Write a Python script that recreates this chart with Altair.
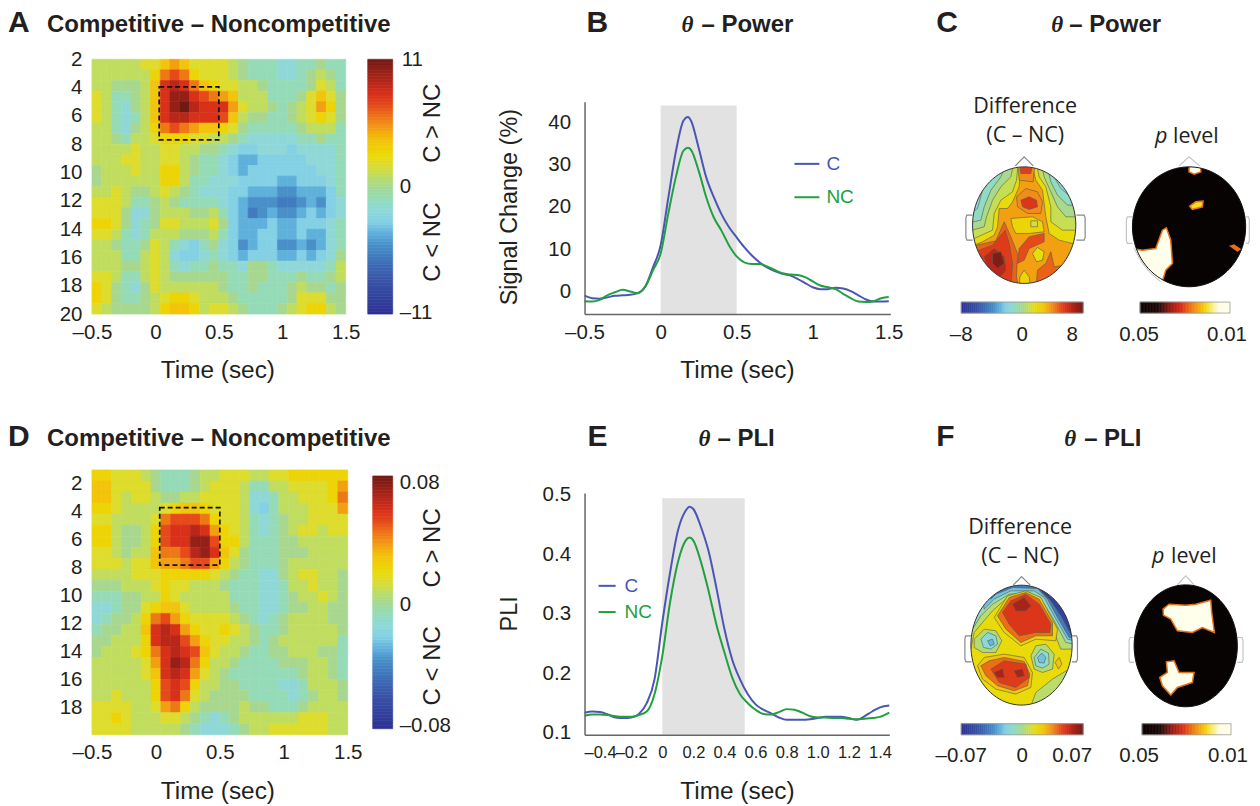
import math
import altair as alt

SANS = "Liberation Sans"
SERIF = "Liberation Serif"
HUMAN = "Open Sans"
INK = "#231f20"
BLUE = "#4b55b4"
GREEN = "#22a040"

# ---------- Heat map A: C - NC power (levels on the -11..11 colour bar)
A_ROWS = [
 [1,1,1,1,1,2,2,4,5,4,2,2,2,2,1,0,-1,-1,-1,-2,-2,-1,-1,0,-1,-1],
 [1,1,1,1,1,1,3,6,7,6,3,2,2,2,1,0,-1,-1,-1,-2,-2,-1,0,1,0,-1],
 [1,1,0,0,0,1,4,8,9,8,6,4,3,2,2,1,1,0,-1,-1,-1,-1,0,2,1,-1],
 [2,1,-1,-1,0,1,4,8,10,10,8,7,6,5,4,1,1,1,-1,-1,-1,0,2,4,2,0],
 [2,1,-1,-2,0,1,4,8,10,11,9,8,8,8,5,2,1,1,0,-1,0,1,2,5,3,0],
 [2,1,-1,-2,-1,1,4,8,9,9,8,8,8,7,4,1,0,0,-1,-1,0,1,2,3,2,0],
 [1,1,-1,-2,0,1,3,6,7,6,5,4,4,3,2,0,-1,-1,-1,-1,-1,0,1,1,1,-1],
 [1,1,0,-1,1,1,2,3,3,3,2,2,1,1,0,-1,-2,-2,-2,-2,-2,-1,-1,0,-1,-1],
 [1,1,1,1,2,1,1,2,2,1,1,0,0,-1,-2,-3,-3,-2,-2,-2,-3,-2,-2,-2,-2,-1],
 [1,1,1,2,2,1,1,2,2,1,0,-1,-1,-2,-3,-4,-4,-3,-3,-3,-3,-3,-2,-2,-2,-1],
 [0,1,1,1,2,1,1,3,3,1,0,-1,-1,-2,-3,-4,-3,-3,-3,-3,-3,-3,-3,-2,-2,-1],
 [0,1,1,1,1,1,1,3,3,1,-1,-1,-2,-2,-2,-3,-3,-3,-3,-4,-4,-3,-3,-3,-2,-1],
 [1,1,2,1,0,0,1,2,1,0,-1,-2,-2,-2,-3,-3,-4,-4,-4,-5,-5,-4,-4,-4,-3,-1],
 [2,2,2,1,-1,-1,0,1,0,-1,-1,-1,-1,-2,-3,-4,-5,-5,-5,-6,-6,-5,-4,-5,-3,-2],
 [2,2,2,0,-2,-2,0,1,1,1,0,0,1,-1,-3,-4,-6,-5,-4,-5,-5,-4,-3,-4,-3,-2],
 [3,3,2,0,-2,-1,0,2,2,1,1,1,2,0,-3,-4,-4,-4,-3,-4,-4,-3,-3,-3,-2,-1],
 [2,2,1,-1,-2,-1,1,1,1,0,0,0,1,-1,-3,-4,-4,-3,-3,-4,-4,-3,-4,-4,-2,-1],
 [1,1,0,-1,-1,0,2,1,-1,-2,-3,-1,0,-2,-3,-5,-4,-3,-3,-5,-5,-4,-5,-4,-2,-1],
 [1,1,1,-1,-1,1,2,1,-2,-3,-3,-2,-1,-2,-3,-4,-3,-3,-3,-4,-4,-3,-4,-3,-2,0],
 [1,1,1,0,0,1,2,1,-1,-2,-1,-1,0,-1,-1,-2,0,0,-1,-2,-2,-2,-2,-2,-1,1],
 [2,2,1,-1,-1,1,2,1,0,0,0,0,0,0,-1,-1,0,0,-1,-1,-1,0,-1,-1,0,1],
 [3,2,0,-1,-2,0,2,1,1,1,1,1,1,0,-1,-1,0,-1,-1,-1,0,1,0,0,-1,0],
 [3,2,0,-1,-1,0,1,2,3,3,2,1,1,1,0,-1,-1,-1,-1,-1,0,2,2,2,0,0],
 [2,1,0,0,0,0,1,3,4,4,3,1,2,2,1,0,-1,-1,-1,0,1,2,3,3,1,0],
]
# ---------- Heat map D: C - NC PLI (levels in 11ths of 0.08)
D_ROWS = [
 [3,3,2,2,2,1,0,-1,-1,-1,0,1,1,2,2,2,1,1,2,2,3,3,3,3,3,3],
 [4,4,2,2,2,2,0,-1,-1,-1,0,1,2,2,2,1,-1,-1,1,1,2,2,2,2,3,5],
 [4,4,2,1,2,2,1,0,0,1,1,2,2,2,2,1,-2,-2,-1,1,1,2,2,2,3,6],
 [3,3,2,1,1,1,1,2,3,4,4,3,2,2,2,1,-2,-3,-1,1,1,1,2,2,2,5],
 [2,2,1,1,1,1,2,6,7,7,7,6,3,2,2,1,-1,-2,-1,0,1,1,2,2,2,2],
 [3,3,1,0,0,1,3,7,8,8,9,8,5,3,2,1,-1,-2,-1,0,1,2,2,1,2,2],
 [3,3,1,0,0,1,3,7,8,8,10,10,7,3,3,1,-1,-1,-1,0,0,1,1,1,1,1],
 [2,2,1,0,1,1,4,6,6,7,9,10,8,4,2,0,-1,-1,-1,0,0,0,1,1,1,1],
 [2,2,2,1,2,2,4,5,5,6,7,7,5,3,1,0,-1,-1,-1,0,1,1,1,1,1,1],
 [1,1,1,1,2,2,2,3,3,3,3,3,2,1,0,-1,-1,-2,-2,0,1,2,2,1,1,0],
 [0,0,0,1,1,1,2,3,2,2,1,1,1,0,-1,-1,-1,-2,-2,-1,1,1,2,1,1,0],
 [-1,-1,-1,0,0,1,1,3,2,1,1,1,1,1,-1,-1,-1,-2,-2,-1,0,1,1,2,1,0],
 [-2,-2,-1,0,0,2,3,4,4,2,1,1,1,1,0,-1,-1,-2,-2,-1,0,0,1,1,0,0],
 [-2,-1,0,0,1,3,6,7,5,3,2,2,2,2,1,0,-1,-2,-1,0,1,1,1,1,0,0],
 [-1,0,0,1,1,4,8,9,8,5,3,2,2,3,2,1,0,-1,-1,0,1,1,1,1,1,0],
 [0,0,1,1,1,3,8,9,9,7,5,3,2,2,1,1,0,-1,0,1,1,1,1,1,1,-1],
 [0,1,1,1,2,3,6,8,9,8,7,4,2,1,1,0,-1,-1,0,0,1,1,1,0,0,-1],
 [1,1,1,1,1,2,5,8,10,9,6,3,1,1,0,-1,-1,-1,-1,0,0,0,1,1,0,-1],
 [1,1,1,1,1,2,4,8,9,8,5,2,1,0,-1,-1,-1,-1,-1,-1,-1,0,1,1,0,-1],
 [1,1,1,1,1,1,3,7,8,7,3,1,1,0,0,-1,-1,-1,-1,-2,-2,-1,1,1,1,0],
 [1,1,2,1,1,1,3,7,8,6,2,1,0,0,0,0,-1,-1,-1,-1,-2,-1,0,1,1,0],
 [2,2,2,2,1,1,2,5,6,3,1,0,0,0,0,1,0,0,-1,-1,-1,0,1,1,1,1],
 [2,2,3,2,1,1,1,2,2,1,0,-1,-2,-1,0,1,1,1,1,1,1,2,2,2,1,1],
 [2,2,2,2,1,1,1,1,1,0,-1,-2,-2,-2,-1,0,1,1,2,2,2,2,2,2,1,1],
]
# ---------- Curves
B_T = [-0.5,-0.45,-0.4,-0.35,-0.3,-0.25,-0.2,-0.15,-0.1,-0.05,0,0.05,0.1,0.15,0.18,0.2,0.25,0.3,0.35,0.4,0.45,0.5,0.55,0.6,0.65,0.7,0.75,0.8,0.85,0.9,0.95,1.0,1.05,1.1,1.15,1.2,1.25,1.3,1.35,1.4,1.45,1.5]
B_C = [-1,-1.6,-1.7,-1.4,-1,-0.9,-0.8,-0.4,1.2,5.7,10.9,22,33,40.4,41.3,40.4,34,27,22.3,18.3,15.2,12.8,10.5,8.5,6.9,5.7,4.8,4.2,3.8,3,2,1,0.55,0.55,0.9,0.7,0.1,-0.9,-1.9,-2.4,-2.4,-2.3]
B_NC = [-2.3,-2.4,-2,-0.9,-0.2,0.4,0,-0.4,1.2,5,8.9,18.3,27,33.3,34,33.5,28.6,22.3,17.5,14.4,10.9,8.3,6.9,6.5,6.5,5.9,5.1,4.3,4,3.9,3.4,2.4,1.4,1,0.55,-0.55,-1.6,-2.4,-2.5,-2.3,-1.6,-1.3]
E_T = [-0.5,-0.45,-0.4,-0.35,-0.3,-0.25,-0.2,-0.15,-0.1,-0.05,0,0.05,0.1,0.15,0.176,0.2,0.25,0.3,0.35,0.4,0.45,0.5,0.55,0.6,0.65,0.7,0.75,0.8,0.85,0.9,0.95,1.0,1.05,1.1,1.15,1.2,1.25,1.3,1.35,1.4,1.46]
E_C = [.134,.136,.135,.131,.126,.125,.126,.132,.150,.190,.285,.369,.439,.473,.480,.476,.445,.403,.341,.274,.223,.190,.165,.148,.139,.133,.126,.122,.122,.122,.123,.125,.127,.127,.127,.125,.122,.128,.136,.143,.146]
E_NC = [.129,.131,.131,.130,.128,.127,.127,.130,.136,.165,.229,.319,.386,.423,.428,.423,.386,.336,.280,.235,.193,.165,.150,.139,.132,.131,.135,.140,.139,.134,.128,.126,.126,.125,.125,.124,.123,.124,.125,.127,.134]

# ---------- Scalp maps: (level, outline) at 3x, painted in order
C1_POLYS = [
 (5,[(100,478),(470,478),(470,875),(100,875)]),
 (2.6,[(110,480),(275,480),(270,560),(250,605),(235,625),(210,625),(205,680),(195,705),(160,725),(110,745)]),
 (1.2,[(110,480),(268,480),(262,540),(250,575),(215,600),(195,640),(190,690),(135,715),(110,715)]),
 (0.1,[(110,480),(255,480),(245,530),(215,560),(190,600),(172,650),(165,680),(110,695)]),
 (-1.3,[(110,480),(235,480),(215,530),(185,570),(165,620),(155,660),(110,670)]),
 (-2.3,[(110,480),(205,480),(190,530),(160,570),(145,625),(110,650)]),
 (2.6,[(305,480),(470,480),(470,740),(390,720),(360,700),(350,650),(345,610),(340,570),(320,540)]),
 (1.2,[(320,480),(470,480),(470,690),(400,690),(365,665),(365,620),(350,560),(330,530)]),
 (0.1,[(335,480),(470,480),(470,650),(410,650),(385,620),(365,575),(345,530)]),
 (-1.3,[(350,480),(470,480),(470,615),(415,615),(385,585),(365,545)]),
 (-2.3,[(365,480),(470,480),(470,590),(425,590),(395,565),(375,530)]),
 (5.5,[(265,480),(318,480),(312,545),(270,540)]),
 (7.5,[(270,480),(312,480),(305,520),(275,520)]),
 (5.5,[(262,590),(290,565),(325,575),(340,605),(335,640),(295,640),(265,620)]),
 (7.8,[(275,600),(300,590),(322,600),(325,620),(300,628),(280,620)]),
 (3,[(245,655),(310,650),(340,665),(345,695),(300,700),(260,700),(250,680)]),
 (1.5,[(305,662),(325,662),(325,680),(305,680)]),
 (6.5,[(100,745),(200,722),(225,665),(245,710),(265,760),(262,830),(270,875),(100,875)]),
 (7.6,[(110,765),(190,735),(228,690),(240,730),(250,790),(245,870),(180,870),(130,815)]),
 (9,[(165,770),(195,745),(225,770),(230,810),(210,835),(180,820)]),
 (10.5,[(190,760),(215,755),(225,790),(205,805),(190,790)]),
 (7,[(270,745),(300,710),(345,700),(345,725),(300,745),(285,780),(265,790)]),
 (3,[(272,830),(285,810),(300,830),(305,870),(270,870)]),
 (2.5,[(310,760),(325,742),(345,755),(340,780),(322,785)]),
 (6.5,[(320,870),(325,810),(350,790),(365,755),(375,800),(410,795),(425,810),(380,870)]),
]
F1_POLYS = [
 (2.6,[(95,485),(460,485),(460,890),(95,890)]),
 (0.8,[(96,486),(459,486),(459,700),(395,700),(375,650),(340,560),(290,540),(235,545),(190,585),(160,620),(135,650),(125,700),(96,700)]),
 (-1.2,[(96,486),(459,486),(459,690),(410,680),(370,605),(335,550),(300,530),(240,535),(190,565),(155,600),(130,640),(96,640)]),
 (-3.5,[(150,486),(459,486),(459,680),(415,670),(375,600),(345,545),(315,525),(245,525),(195,550),(165,580)]),
 (-6,[(180,486),(459,486),(459,670),(420,665),(385,605),(355,550),(325,518),(250,515),(200,535),(185,550)]),
 (-9.5,[(320,486),(459,486),(459,660),(425,655),(395,600),(365,555),(335,525)]),
 (0.8,[(300,885),(320,830),(370,790),(420,760),(459,800),(459,885)]),
 (3.2,[(195,605),(235,540),(290,525),(335,545),(385,640),(380,675),(320,670),(275,690),(225,650)]),
 (6.2,[(205,600),(240,545),(290,530),(330,550),(370,620),(370,660),(320,660),(275,680),(230,640)]),
 (7.8,[(220,590),(245,555),(290,535),(330,565),(365,625),(362,650),(320,650),(270,660),(240,625)]),
 (9.5,[(250,565),(285,545),(305,570),(290,585),(260,585)]),
 (0.5,[(135,670),(165,640),(200,645),(218,675),(200,710),(160,710),(135,695)]),
 (-2.2,[(155,670),(175,650),(200,660),(205,685),(185,700),(163,695)]),
 (-3.8,[(175,675),(190,670),(195,685),(183,690)]),
 (0.5,[(305,720),(320,690),(350,685),(375,715),(370,760),(340,770),(315,760)]),
 (-1.5,[(315,725),(335,700),(358,712),(360,745),(340,757),(320,750)]),
 (-3.5,[(325,725),(338,712),(350,725),(345,742),(330,740)]),
 (4,[(378,740),(390,725),(398,745),(388,760)]),
 (4,[(145,750),(165,725),(225,715),(285,725),(310,770),(305,815),(260,835),(200,820),(160,790)]),
 (6.2,[(155,750),(180,735),(225,725),(285,737),(302,775),(295,810),(255,825),(205,810),(170,780)]),
 (7.6,[(185,760),(225,735),(290,745),(300,785),(260,815),(210,800)]),
 (9.5,[(195,770),(220,760),(225,785),(205,785)]),
 (9.5,[(255,765),(280,760),(285,780),(265,785)]),
]
C2_POLYS = [
 (0.05,[(604,480),(954,480),(954,870),(604,870)]),
 (0.01,[(606,745),(640,750),(680,745),(700,690),(712,683),(725,720),(730,790),(710,810),(695,860),(620,830)]),
 (0.01,[(780,490),(815,490),(815,515),(795,522),(780,515)]),
 (0.02,[(782,618),(800,605),(822,603),(820,620),(790,628)]),
 (0.028,[(905,738),(915,735),(933,747),(925,752)]),
]
F2_POLYS = [
 (0.05,[(609,495),(931,495),(931,885),(609,885)]),
 (0.01,[(702,580),(720,565),(770,568),(800,565),(845,553),(848,590),(856,650),(820,635),(790,650),(745,645),(725,610),(703,598)]),
 (0.01,[(692,785),(715,770),(712,738),(735,735),(750,770),(795,770),(790,800),(745,815),(725,838),(700,810)]),
]
HOT_P = [0.05,0.042,0.036,0.0312,0.026,0.02,0.0148,0.01]
HOT_C = ["#070303","#1c0806","#a01c10","#e0301a","#f08a1a","#f5e020","#fffde8","#ffffff"]
JET_L = [-11,-8,-6.5,-5,-4,-3,-2,-1,0,1.5,2.5,4,5.5,7,8,9.5,11]
JET_C = ["#2e2f92","#3a55a8","#3f70b8","#4a90c8","#60b0dc","#84d0e4","#90d8d8","#96dbb8","#a8d890","#d4dc40","#e8dc0a","#f2c40c","#f08c1a","#e64a1a","#d9301a","#a82318","#701a14"]


def jet(m):
    return alt.Scale(domain=[v * m / 11 for v in JET_L], range=JET_C, clamp=True)


# p runs downwards along the bar; the colour field is -p so the colour domain ascends
HOT = alt.Scale(domain=[-p for p in HOT_P], range=HOT_C, clamp=True)


def txt(s, px, py, ox, oy, size=20.5, font=SANS, weight="normal", style="normal",
        align="left", baseline="alphabetic", angle=0, color=INK):
    return alt.Chart(alt.Data(values=[{"t": s}])).mark_text(
        fontSize=size, font=font, fontWeight=weight, fontStyle=style, align=align,
        baseline=baseline, angle=angle, color=color).encode(
        x=alt.value(px - ox), y=alt.value(py - oy), text="t:N")


def minus_expr():
    return "(datum.value<0?'–':'')+format(abs(datum.value),'~g')"


def heat(rows, m, ox, oy, w, h, pw, ydom, yticks, box, extra):
    nr, nc = len(rows), len(rows[0])
    recs = []
    for r, row in enumerate(rows):
        for c, lv in enumerate(row):
            recs.append({"x0": -0.5 + 2 * c / nc, "x1": -0.5 + 2 * (c + 1) / nc,
                         "y0": ydom[0] + (ydom[1] - ydom[0]) * r / nr,
                         "y1": ydom[0] + (ydom[1] - ydom[0]) * (r + 1) / nr,
                         "v": lv * m / 11})
    xs = alt.Scale(domain=[-0.5, 1.5], range=[0, w], nice=False)
    ys = alt.Scale(domain=ydom, range=[0, h], nice=False)
    xa = alt.Axis(values=[-0.5, 0, 0.5, 1, 1.5], title=None, domain=False, ticks=False, grid=False,
                  labelPadding=8, labelFontSize=20.5, labelFont=SANS, labelColor=INK,
                  labelExpr=minus_expr(), labelOverlap=False, labelFlush=False)
    ya = alt.Axis(values=yticks, title=None, domain=False, ticks=False, grid=False,
                  labelPadding=10, labelFontSize=20.5, labelFont=SANS, labelColor=INK, labelOverlap=False)
    cells = alt.Chart(alt.Data(values=recs)).mark_rect(strokeWidth=0.6).encode(
        x=alt.X("x0:Q", scale=xs, axis=xa), x2="x1:Q",
        y=alt.Y("y0:Q", scale=ys, axis=ya), y2="y1:Q",
        color=alt.Color("v:Q", scale=jet(m), legend=None),
        stroke=alt.Stroke("v:Q", scale=jet(m), legend=None))
    b = alt.Chart(alt.Data(values=[box])).mark_rect(
        filled=False, stroke="#111111", strokeWidth=1.7, strokeDash=[5, 3]).encode(
        x=alt.X("x0:Q", scale=xs, axis=xa), x2="x1:Q",
        y=alt.Y("y0:Q", scale=ys, axis=ya), y2="y1:Q")
    return alt.layer(cells, b, *extra).properties(width=pw, height=h)


def cbar(m, w, top, bottom):
    n = 88
    recs = [{"a": -m + 2 * m * i / n, "b": -m + 2 * m * (i + 1) / n,
             "v": -m + 2 * m * (i + .5) / n} for i in range(n)]
    ys = alt.Scale(domain=[-m, m], range=[bottom, top], nice=False)
    return alt.Chart(alt.Data(values=recs)).mark_rect(strokeWidth=0.6).encode(
        x=alt.value(0), x2=alt.value(w),
        y=alt.Y("a:Q", scale=ys, axis=None), y2="b:Q",
        color=alt.Color("v:Q", scale=jet(m), legend=None),
        stroke=alt.Stroke("v:Q", scale=jet(m), legend=None))


def lines(T, C, NC, xs, ys, xa, ya, band, legend, extra, pw, ph):
    recs = [{"t": t, "v": v, "s": "C"} for t, v in zip(T, C)] + \
           [{"t": t, "v": v, "s": "NC"} for t, v in zip(T, NC)]
    X = lambda f: alt.X(f, scale=xs, axis=xa)
    Y = lambda f: alt.Y(f, scale=ys, axis=ya)
    cs = alt.Scale(domain=["C", "NC"], range=[BLUE, GREEN])
    g = alt.Chart(alt.Data(values=[band])).mark_rect(color="#e2e2e2").encode(
        x=X("x0:Q"), x2="x1:Q", y=Y("y0:Q"), y2="y1:Q")
    l = alt.Chart(alt.Data(values=recs)).mark_line(strokeWidth=2, interpolate="monotone").encode(
        x=X("t:Q"), y=Y("v:Q"), color=alt.Color("s:N", scale=cs, legend=None), detail="s:N")
    lg = alt.Chart(alt.Data(values=legend)).mark_rule(strokeWidth=2).encode(
        x=X("x0:Q"), x2="x1:Q", y=Y("y:Q"), color=alt.Color("s:N", scale=cs, legend=None))
    lt = alt.Chart(alt.Data(values=legend)).mark_text(align="left", baseline="middle", fontSize=19, font=SANS).encode(
        x=X("tx:Q"), y=Y("y:Q"), text="s:N", color=alt.Color("s:N", scale=cs, legend=None))
    return alt.layer(g, l, lg, lt, *extra).properties(width=pw, height=ph)


def ellipse(cx, cy, rx, ry, rev=False, n=90):
    ts = [2 * math.pi * i / n for i in range(n + 1)]
    if rev:
        ts = ts[::-1]
    return [[cx + rx * math.cos(t), cy + ry * math.sin(t)] for t in ts]


def ear(xin, xout, y0, y1):
    s = 1 if xout > xin else -1
    return [(xin, y0), (xout - 3 * s, y0), (xout, y0 + 8), (xout, y1 - 8), (xout - 3 * s, y1), (xin, y1)]


# every scalp map shares one projection; outlines are shifted from the 3x crop into the panel
PROJ = dict(type="identity", scale=1 / 3, translate=[0, 0])


def head(ox, oy, base, w, h, polys, color_scale, vmap, stroke, sw, c, earL, earR, nose, outline, cdom, cvals,
         bar_top, bar_bottom, extra, pw, arc=None, sign=1, mx=40):
    cx, cy, rx, ry = c
    dx, dy = 3 * (930 - ox), 3 * (base - oy)

    def sh(pts):
        return [[p[0] + dx, p[1] + dy] for p in pts]

    def poly(ring, **kw):
        r = sh(ring)
        if r[0] != r[-1]:
            r.append(r[0])
        return dict(type="Feature", geometry=dict(type="Polygon", coordinates=[r]), properties={}, **kw)

    def path(pts):
        return dict(type="Feature", geometry=dict(type="LineString", coordinates=sh(pts)), properties={})

    feats = [poly(p, v=vmap(l)) for l, p in polys]
    fill = alt.Chart(alt.Data(values=feats)).mark_geoshape(stroke=stroke, strokeWidth=sw, clip=False).encode(
        color=alt.Color("v:Q", scale=color_scale, legend=None)).project(**PROJ)
    x0, x1, y0, y1 = cx - rx - mx, cx + rx + mx, cy - ry - 30, cy + ry + 30
    outer = sh([[x0, y0], [x1, y0], [x1, y1], [x0, y1], [x0, y0]])
    maskf = dict(type="Feature", geometry=dict(type="Polygon", coordinates=[outer, sh(ellipse(cx, cy, rx, ry, rev=True))]), properties={})
    mask = alt.Chart(alt.Data(values=[maskf])).mark_geoshape(fill="white", strokeWidth=0, clip=False).project(**PROJ)
    parts = [path(earL), path(earR), path(nose)]
    gear = alt.Chart(alt.Data(values=parts)).mark_geoshape(filled=False, clip=False, stroke="#c4c4c4" if outline == "#111111" else "#888888", strokeWidth=1.2).project(**PROJ)
    line = alt.Chart(alt.Data(values=[path(ellipse(cx, cy, rx, ry))])).mark_geoshape(filled=False, clip=False, stroke=outline, strokeWidth=1).project(**PROJ)
    layers = [fill, mask, gear, line]
    if arc:
        layers.append(alt.Chart(alt.Data(values=[path(arc)])).mark_geoshape(filled=False, clip=False, stroke="#bbbbbb", strokeWidth=1).project(**PROJ))
    xs = alt.Scale(domain=cdom, range=[0, w], nice=False)
    recs = [{"a": cvals[i], "b": cvals[i + 1], "v": sign * (cvals[i] + cvals[i + 1]) / 2} for i in range(len(cvals) - 1)]
    bar = alt.Chart(alt.Data(values=recs)).mark_rect(strokeWidth=0.6).encode(
        x=alt.X("a:Q", scale=xs, axis=None), x2="b:Q",
        y=alt.value(bar_top), y2=alt.value(bar_bottom),
        color=alt.Color("v:Q", scale=color_scale, legend=None),
        stroke=alt.Stroke("v:Q", scale=color_scale, legend=None))
    frame = alt.Chart(alt.Data(values=[{"k": 1}])).mark_rect(filled=False, stroke="#999999", strokeWidth=0.8).encode(
        x=alt.value(0), x2=alt.value(w), y=alt.value(bar_top), y2=alt.value(bar_bottom))
    return alt.layer(*layers, bar, frame, *extra).properties(width=pw, height=h)


def span(m, n=60):
    return [-m + 2 * m * i / n for i in range(n + 1)]


TITLE = dict(size=24, weight="bold")
TIME = dict(size=24.4, align="center")
OY1, OY2 = 59, 470
anchor = alt.Chart(alt.Data(values=[{"k": 1}])).mark_rule(opacity=0).encode(
    x=alt.value(-84), y=alt.value(-51), y2=alt.value(-50))
pA = heat(A_ROWS, 11, 92, OY1, 254, 255, 276, [2, 20], list(range(2, 21, 2)),
          {"x0": 0.03, "x1": 0.5, "y0": 3.95, "y1": 7.7},
          [anchor,
           txt("A", 8, 32, 92, OY1, size=30, weight="bold"),
           txt("Competitive – Noncompetitive", 47, 32, 92, OY1, **TITLE),
           txt("Time (sec)", 218, 378, 92, OY1, **TIME)])

pAc = alt.layer(cbar(11, 25, 0, 255),
    txt("11", 402, 60, 368, OY1, baseline="middle"),
    txt("0", 400, 187, 368, OY1, baseline="middle"),
    txt("–11", 400, 313, 368, OY1, baseline="middle"),
    txt("C > NC", 433, 123, 368, OY1, size=24, align="center", baseline="middle", angle=270),
    txt("C < NC", 433, 242, 368, OY1, size=24, align="center", baseline="middle", angle=270),
).properties(width=217, height=255)

axis_x = dict(title=None, grid=False, ticks=False, domain=True, domainColor="#666666", domainWidth=1.5,
              labelFont=SANS, labelColor=INK, labelOverlap=False, labelFlush=False, zindex=1)
pB = lines(B_T, B_C, B_NC,
    alt.Scale(domain=[-0.5, 1.51], range=[0, 306], nice=False),
    alt.Scale(domain=[-5.35, 44.9], range=[255, 42.5], nice=False),
    alt.Axis(values=[-0.5, 0, 0.5, 1, 1.5], labelExpr=minus_expr(), labelFontSize=20.5, labelPadding=8, **axis_x),
    alt.Axis(values=[0, 10, 20, 30, 40], labelFontSize=20.5, labelPadding=14, **axis_x),
    {"x0": 0, "x1": 0.5, "y0": -5.35, "y1": 44},
    [{"s": "C", "x0": 0.88, "x1": 1.044, "tx": 1.09, "y": 30.2},
     {"s": "NC", "x0": 0.88, "x1": 1.044, "tx": 1.09, "y": 22.3}],
    [txt("B", 587, 32, 585, OY1, size=30, weight="bold"),
     txt("θ", 682, 32, 585, OY1, size=23, font=SERIF, style="italic", weight="bold"),
     txt("– Power", 702, 32, 585, OY1, **TITLE),
     txt("Signal Change (%)", 510, 207, 585, OY1, size=23.4, align="center", baseline="middle", angle=270),
     txt("Time (sec)", 738, 378, 585, OY1, **TIME)],
    377, 255)

pC1 = head(962, OY1, 0, 122, 255, C1_POLYS, jet(8), lambda l: l * 8 / 11, "#5a5a48", 0.6,
    (285, 675, 155, 175), ear(130, 110, 645, 720), ear(442, 468, 645, 720), [(258, 497), (285, 470), (312, 497)],
    "#333333", [-8, 8], span(8), 243, 254,
    [txt("C", 937, 32, 962, OY1, size=30, weight="bold"),
     txt("θ", 1052, 32, 962, OY1, size=23, font=SERIF, style="italic", weight="bold"),
     txt("– Power", 1070, 32, 962, OY1, **TITLE),
     txt("Difference", 1026, 113, 962, OY1, size=21.5, font=HUMAN, align="center"),
     txt("(C – NC)", 1026, 142, 962, OY1, size=21.5, font=HUMAN, align="center"),
     txt("–8", 962, 341, 962, OY1, align="center"),
     txt("0", 1023, 341, 962, OY1, align="center"),
     txt("8", 1073, 341, 962, OY1, align="center")], 179)

p_vals = [0.05 - 0.04 * i / 60 for i in range(61)]
pC2 = head(1141, OY1, 0, 90, 255, C2_POLYS, HOT, lambda l: -l, "#e8701a", 1.5,
    (780, 680, 170, 180), ear(610, 592, 650, 730), ear(950, 961, 650, 730), [(750, 497), (780, 470), (812, 497)],
    "#111111", [0.05, 0.01], p_vals, 243, 254,
    [txt("p", 1156, 143, 1141, OY1, size=21.5, font=HUMAN, style="italic"),
     txt("level", 1174, 143, 1141, OY1, size=21.5, font=HUMAN),
     txt("0.05", 1140, 341, 1141, OY1, align="center"),
     txt("0.01", 1228, 341, 1141, OY1, align="center")], 90,
    arc=[(615, 745), (640, 790), (665, 820), (695, 845)], sign=-1, mx=11)

row1 = alt.hconcat(pA, pAc, pB, pC1, pC2, spacing=0, bounds="flush").resolve_scale(color="independent", stroke="independent")

pD = heat(D_ROWS, 0.08, 92, OY2, 256, 265, 281, [1, 19.93], list(range(2, 19, 2)),
          {"x0": 0.03, "x1": 0.5, "y0": 3.7, "y1": 7.8},
          [txt("D", 8, 446, 92, OY2, size=30, weight="bold"),
           txt("Competitive – Noncompetitive", 47, 446, 92, OY2, **TITLE),
           txt("Time (sec)", 218, 799, 92, OY2, **TIME)])

pDc = alt.layer(cbar(0.08, 20, 6, 259),
    txt("0.08", 400, 483, 373, OY2, baseline="middle"),
    txt("0", 400, 605, 373, OY2, baseline="middle"),
    txt("–0.08", 400, 726, 373, OY2, baseline="middle"),
    txt("C > NC", 433, 548, 373, OY2, size=24, align="center", baseline="middle", angle=270),
    txt("C < NC", 433, 666, 373, OY2, size=24, align="center", baseline="middle", angle=270),
).properties(width=212, height=265)

pE = lines(E_T, E_C, E_NC,
    alt.Scale(domain=[-0.5, 1.46], range=[0, 305], nice=False),
    alt.Scale(domain=[0.097, 0.503], range=[265, 23], nice=False),
    alt.Axis(values=[-0.4, -0.2, 0, 0.2, 0.4, 0.6, 0.8, 1.0, 1.2, 1.4], labelFontSize=16.5, labelPadding=10,
             labelExpr="datum.value==0?'0':(datum.value<0?'–':'')+format(abs(datum.value),'.1f')", **axis_x),
    alt.Axis(values=[0.1, 0.2, 0.3, 0.4, 0.5], format=".1f", labelFontSize=20.5, labelPadding=14, **axis_x),
    {"x0": 0, "x1": 0.53, "y0": 0.097, "y1": 0.494},
    [{"s": "C", "x0": -0.41, "x1": -0.30, "tx": -0.243, "y": 0.347},
     {"s": "NC", "x0": -0.41, "x1": -0.30, "tx": -0.243, "y": 0.303}],
    [txt("E", 588, 446, 585, OY2, size=30, weight="bold"),
     txt("θ", 699, 446, 585, OY2, size=23, font=SERIF, style="italic", weight="bold"),
     txt("– PLI", 718, 446, 585, OY2, **TITLE),
     txt("PLI", 510, 614, 585, OY2, size=23.4, align="center", baseline="middle", angle=270),
     txt("Time (sec)", 738, 799, 585, OY2, **TIME)],
    377, 265)

pF1 = head(962, OY2, 416, 122, 265, F1_POLYS, jet(0.07), lambda l: l * 0.07 / 11, "#5a5a48", 0.6,
    (277, 688, 152, 180), ear(127, 107, 660, 738), ear(428, 445, 660, 738), [(252, 508), (277, 482), (303, 508)],
    "#333333", [-0.07, 0.07], span(0.07), 254, 265,
    [txt("F", 937, 446, 962, OY2, size=30, weight="bold"),
     txt("θ", 1065, 446, 962, OY2, size=23, font=SERIF, style="italic", weight="bold"),
     txt("– PLI", 1085, 446, 962, OY2, **TITLE),
     txt("Difference", 1021, 534, 962, OY2, size=21.5, font=HUMAN, align="center"),
     txt("(C – NC)", 1021, 563, 962, OY2, size=21.5, font=HUMAN, align="center"),
     txt("–0.07", 962, 762, 962, OY2, align="center"),
     txt("0", 1023, 762, 962, OY2, align="center"),
     txt("0.07", 1073, 762, 962, OY2, align="center")], 181)

pF2 = head(1143, OY2, 416, 89, 265, F2_POLYS, HOT, lambda l: -l, "#e8701a", 1.5,
    (770, 690, 155, 183), ear(615, 600, 665, 740), ear(925, 942, 665, 740), [(745, 507), (770, 480), (795, 507)],
    "#111111", [0.05, 0.01], p_vals, 254, 265,
    [txt("p", 1153, 563, 1143, OY2, size=21.5, font=HUMAN, style="italic"),
     txt("level", 1172, 563, 1143, OY2, size=21.5, font=HUMAN),
     txt("0.05", 1140, 762, 1143, OY2, align="center"),
     txt("0.01", 1229, 762, 1143, OY2, align="center")], 89, sign=-1, mx=11)

row2 = alt.hconcat(pD, pDc, pE, pF1, pF2, spacing=0, bounds="flush").resolve_scale(color="independent", stroke="independent")

# The flush inner rows report no height, so the row gap includes row 1's 255px.
chart = alt.vconcat(row1, row2, spacing=411, bounds="flush").resolve_scale(color="independent", stroke="independent").properties(padding=0).configure_view(stroke=None)
chart.save("out.html", embed_options={"renderer": "svg", "actions": False})
